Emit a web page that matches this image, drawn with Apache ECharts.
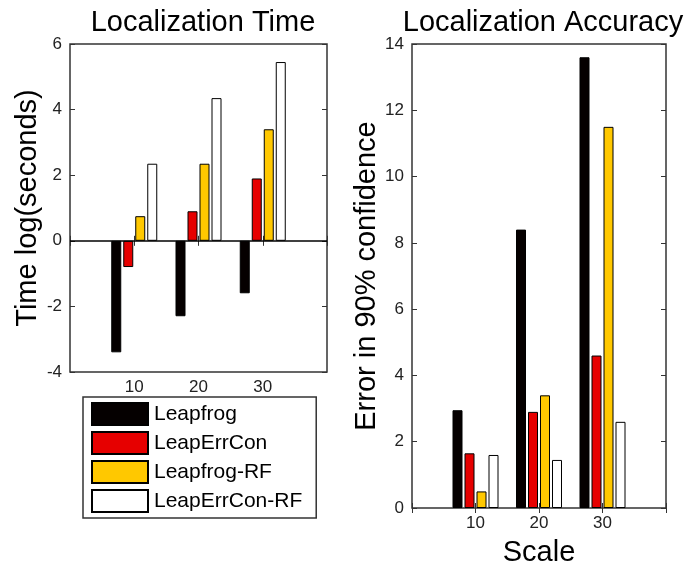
<!DOCTYPE html>
<html>
<head>
<meta charset="utf-8">
<script src="https://cdn.jsdelivr.net/npm/echarts@6/dist/echarts.min.js"></script>
<style>
  html, body { margin: 0; padding: 0; background: #fff; }
  #chart { width: 685px; height: 572px; }
</style>
</head>
<body>
<div id="chart"></div>
<script>
// x positions (MATLAB xlim 0..40, ticks at 10/20/30)
const scales = ['0', '10', '20', '30', '40']
const seriesNames = ['Leapfrog', 'LeapErrCon', 'Leapfrog-RF', 'LeapErrCon-RF']
const seriesColors = ['#050000', '#e60000', '#ffc800', '#ffffff']

// Localization Time, log(seconds), for scale 10 / 20 / 30
const timeLeapfrog = [-3.4, -2.3, -1.6]
const timeLeapErrCon = [-0.8, 0.9, 1.9]
const timeLeapfrogRF = [0.75, 2.35, 3.4]
const timeLeapErrConRF = [2.35, 4.35, 5.45]

// Localization Accuracy, error in 90% confidence
const errLeapfrog = [2.95, 8.4, 13.6]
const errLeapErrCon = [1.65, 2.9, 4.6]
const errLeapfrogRF = [0.5, 3.4, 11.5]
const errLeapErrConRF = [1.6, 1.45, 2.6]

const timeTicks = [-4, -2, 0, 2, 4, 6]
const errTicks = [0, 2, 4, 6, 8, 10, 12, 14]

const font = 'Liberation Sans, Arial, Helvetica, sans-serif'
const labelColor = '#222'

// pad the 0 and 40 positions with empty values
function pad(vals) {
  return ['-'].concat(vals, ['-'])
}

function xAxes(gridIndex, showLabel, name) {
  return [{
    type: 'category',
    gridIndex: gridIndex,
    data: scales,
    boundaryGap: false,
    position: 'bottom',
    axisLine: { show: false },
    axisTick: { inside: true, length: 5, lineStyle: { color: '#333' } },
    axisLabel: {
      show: showLabel,
      margin: 7,
      fontSize: 17,
      fontFamily: font,
      color: labelColor,
      formatter: v => (v === '0' || v === '40') ? '' : v
    },
    splitLine: { show: false },
    name: name,
    nameLocation: 'middle',
    nameGap: 30,
    nameTextStyle: { fontSize: 29, fontFamily: font, color: '#000', verticalAlign: 'top' }
  }, {
    type: 'category',
    gridIndex: gridIndex,
    data: scales,
    boundaryGap: false,
    position: 'top',
    axisLine: { show: false },
    axisTick: { inside: true, length: 5, lineStyle: { color: '#333' } },
    axisLabel: { show: false },
    splitLine: { show: false }
  }]
}

function yAxes(gridIndex, ticks, name, nameGap) {
  const min = ticks[0]
  const max = ticks[ticks.length - 1]
  return [{
    type: 'value',
    gridIndex: gridIndex,
    min: min,
    max: max,
    interval: 2,
    position: 'left',
    axisLine: { show: false },
    axisTick: { show: true, inside: true, length: 5, lineStyle: { color: '#333' } },
    axisLabel: { margin: 8, fontSize: 17, fontFamily: font, color: labelColor },
    splitLine: { show: false },
    name: name,
    nameLocation: 'middle',
    nameRotate: 90,
    nameGap: nameGap,
    nameTextStyle: { fontSize: 29, fontFamily: font, color: '#000' }
  }, {
    type: 'value',
    gridIndex: gridIndex,
    min: min,
    max: max,
    interval: 2,
    position: 'right',
    axisLine: { show: false },
    axisTick: { show: true, inside: true, length: 5, lineStyle: { color: '#333' } },
    axisLabel: { show: false },
    splitLine: { show: false }
  }]
}

function bars(gridIndex, groups) {
  return groups.map((vals, i) => {
    const s = {
      name: seriesNames[i],
      type: 'bar',
      xAxisIndex: gridIndex * 2,
      yAxisIndex: gridIndex * 2,
      data: pad(vals),
      barWidth: 10,
      barGap: '20%',
      itemStyle: { color: seriesColors[i], borderColor: '#000', borderWidth: 1 },
      animation: false
    }
    if (gridIndex === 0 && i === 0) {
      s.markLine = {
        silent: true,
        symbol: 'none',
        label: { show: false },
        lineStyle: { color: '#000', width: 1.5, type: 'solid' },
        data: [{ yAxis: 0 }]
      }
    }
    return s
  })
}

const chart = echarts.init(document.getElementById('chart'))

chart.setOption({
  backgroundColor: '#fff',
  animation: false,
  title: [{
    text: 'Localization Time',
    left: 198,
    top: 3,
    textAlign: 'center',
    textStyle: { fontSize: 29, fontWeight: 'normal', fontFamily: font, color: '#000' }
  }, {
    text: 'Localization Accuracy',
    left: 538,
    top: 3,
    textAlign: 'center',
    textStyle: { fontSize: 29, fontWeight: 'normal', fontFamily: font, color: '#000' }
  }],
  legend: {
    data: seriesNames,
    orient: 'vertical',
    left: 83,
    top: 397,
    selectedMode: false,
    backgroundColor: '#fff',
    borderColor: '#333',
    borderWidth: 1.5,
    borderRadius: 0,
    padding: [5, 14, 5, 8],
    itemWidth: 56,
    itemHeight: 22,
    itemGap: 5,
    icon: 'rect',
    textStyle: { fontSize: 21, lineHeight: 22, fontFamily: font, color: '#000', padding: [0, 0, 0, 1] }
  },
  grid: [
    { left: 70, top: 44, width: 257, height: 328, show: true, borderColor: '#333', borderWidth: 1.5, backgroundColor: '#fff' },
    { left: 412, top: 44, width: 254, height: 468, show: true, borderColor: '#333', borderWidth: 1.5, backgroundColor: '#fff' }
  ],
  xAxis: xAxes(0, true, '').concat(xAxes(1, true, 'Scale')),
  yAxis: yAxes(0, timeTicks, 'Time log(seconds)', 24).concat(yAxes(1, errTicks, 'Error in 90% confidence', 30)),
  series: bars(0, [timeLeapfrog, timeLeapErrCon, timeLeapfrogRF, timeLeapErrConRF])
    .concat(bars(1, [errLeapfrog, errLeapErrCon, errLeapfrogRF, errLeapErrConRF]))
})
</script>
</body>
</html>
